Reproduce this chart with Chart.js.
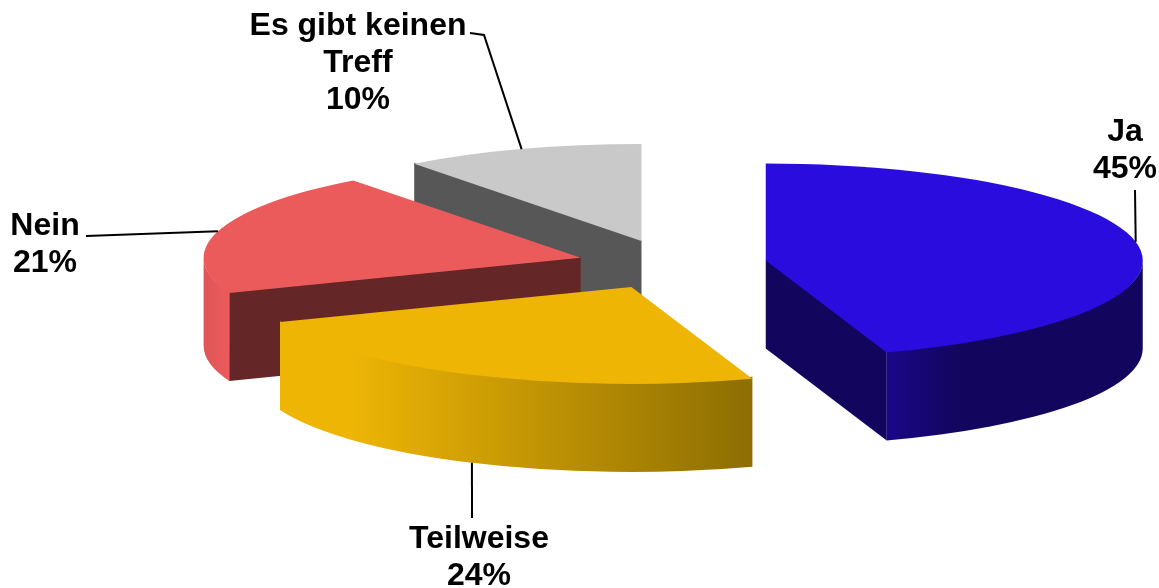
<!DOCTYPE html>
<html>
<head>
<meta charset="utf-8">
<style>
html,body{margin:0;padding:0;background:#fff;overflow:hidden}
#wrap{width:1159px;height:588px}
canvas{display:block}
</style>
<script src="https://cdn.jsdelivr.net/npm/chart.js@4/dist/chart.umd.js"></script>
</head>
<body>
<div id="wrap"><canvas id="c" width="1159" height="588"></canvas></div>
<script>
const categories = ['Ja', 'Teilweise', 'Nein', 'Es gibt keinen Treff'];
const shares = [44.8, 24.3, 20.6, 10.3];
const explosions = [95, 96, 95, 96];

const topColors = ['#2A0CDE', '#EEB505', '#EC5B5C', '#C9C9C9'];
const wallColors = ['#12055E', '#8D6E03', '#652627', '#575757'];
const rimStops = [
  [[0, '#1A0788'], [0.28, '#12055E'], [1, '#12055E']],
  [[0, '#EEB505'], [0.15, '#EEB505'], [1, '#8D6E03']],
  [[0, '#DE5558'], [1, '#EC5B5C']],
  [[0, '#575757'], [1, '#575757']]
];
const labelLines = [['Ja', '45%'], ['Teilweise', '24%'], ['Nein', '21%'], ['Es gibt keinen', 'Treff', '10%']];
const labelCentres = [[1125, 132], [479, 539], [45, 226], [358, 26]];
const leaderBends = [[[1135, 190]], [[472, 518]], [[86, 236]], [[484, 35], [470, 33]]];
const leaderOnRim = [false, true, false, false];
const leaderNudge = [-0.03, 0, 0, 0];

const TILT = 97 / 377, DEPTH = 88, RADIUS = 377;
const paintOrder = [3, 2, 1, 0];

function apex(el) {
  const mid = (el.startAngle + el.endAngle) / 2, off = el.options.offset;
  return {x: el.x + Math.cos(mid) * off, y: el.y + Math.sin(mid) * off * TILT};
}
function onRim(p, r, a) {
  return {x: p.x + Math.cos(a) * r, y: p.y + Math.sin(a) * r * TILT};
}
function drawWedge(ctx, el, i) {
  const p = apex(el), r = el.outerRadius, a = el.startAngle, b = el.endAngle, ry = r * TILT;
  // radial walls that face the viewer
  ctx.fillStyle = wallColors[i];
  [[a, -1], [b, 1]].forEach(([ang, side]) => {
    const facing = Math.sin(ang + side * Math.PI / 2) > 1e-3;
    if (!facing) return;
    const q = onRim(p, r, ang);
    ctx.beginPath();
    ctx.moveTo(p.x, p.y - 1);
    ctx.lineTo(q.x, q.y - 1);
    ctx.lineTo(q.x, q.y + DEPTH);
    ctx.lineTo(p.x, p.y + DEPTH);
    ctx.closePath();
    ctx.fill();
  });
  // outer rim: only the part on the front half of the ellipse
  const s = Math.max(a, 0), e = Math.min(b, Math.PI);
  if (e > s) {
    const q1 = onRim(p, r, s), q2 = onRim(p, r, e);
    const g = ctx.createLinearGradient(Math.min(q1.x, q2.x), 0, Math.max(q1.x, q2.x), 0);
    rimStops[i].forEach(([t, c]) => g.addColorStop(t, c));
    ctx.fillStyle = g;
    ctx.beginPath();
    ctx.ellipse(p.x, p.y, r, ry - 2, 0, s, e);
    ctx.lineTo(q2.x, q2.y + DEPTH);
    ctx.ellipse(p.x, p.y + DEPTH, r, ry, 0, e, s, true);
    ctx.closePath();
    ctx.fill();
  }
  // top face
  ctx.fillStyle = el.options.backgroundColor;
  ctx.beginPath();
  ctx.moveTo(p.x, p.y);
  ctx.ellipse(p.x, p.y, r, ry, 0, a, b);
  ctx.closePath();
  ctx.fill();
}

class Pie3DController extends Chart.PieController {
  draw() {
    const ctx = this.chart.ctx, arcs = this.getMeta().data;
    paintOrder.forEach(i => drawWedge(ctx, arcs[i], i));
  }
}
Pie3DController.id = 'pie3d';
Pie3DController.defaults = {};
Chart.register(Pie3DController);

const calloutPlugin = {
  id: 'callouts',
  afterDatasetsDraw(chart) {
    const ctx = chart.ctx, arcs = chart.getDatasetMeta(0).data;
    arcs.forEach((el, i) => {
      const p = apex(el), mid = (el.startAngle + el.endAngle) / 2 + leaderNudge[i];
      const q = onRim(p, el.outerRadius, mid);
      ctx.save();
      ctx.strokeStyle = '#000';
      ctx.lineWidth = 2;
      ctx.beginPath();
      ctx.moveTo(q.x, q.y + (leaderOnRim[i] ? DEPTH : 0));
      leaderBends[i].forEach(([x, y]) => ctx.lineTo(x, y));
      ctx.stroke();
      ctx.fillStyle = '#000';
      ctx.font = 'bold 32px "Liberation Sans", Arial, sans-serif';
      ctx.textAlign = 'center';
      ctx.textBaseline = 'middle';
      const [cx, cy] = labelCentres[i];
      labelLines[i].forEach((t, n) => ctx.fillText(t, cx, cy + n * 37));
      ctx.restore();
    });
  }
};

new Chart(document.getElementById('c'), {
  type: 'pie3d',
  data: {
    labels: categories,
    datasets: [{
      data: shares,
      backgroundColor: topColors,
      borderWidth: 0,
      offset: explosions,
      clip: false
    }]
  },
  options: {
    responsive: false,
    animation: false,
    events: [],
    radius: RADIUS,
    layout: {padding: {left: 185, right: 0, top: 0, bottom: 59}},
    plugins: {legend: {display: false}, tooltip: {enabled: false}}
  },
  plugins: [calloutPlugin]
});
</script>
</body>
</html>
